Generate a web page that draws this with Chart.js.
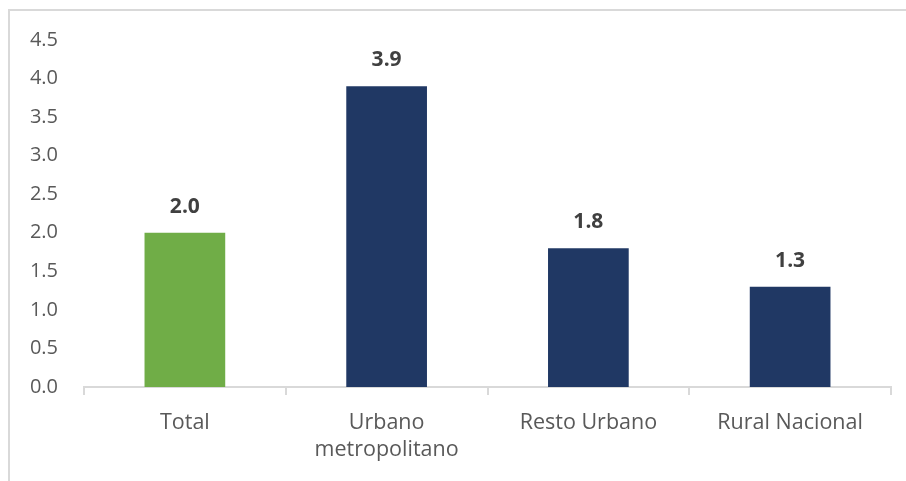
<!DOCTYPE html>
<html>
<head>
<meta charset="utf-8">
<script src="https://cdn.jsdelivr.net/npm/chart.js@4/dist/chart.umd.min.js"></script>
<style>
  html, body { margin: 0; padding: 0; background: #fff; }
  #wrap { position: relative; width: 906px; height: 481px; overflow: hidden; }
  #frame { position: absolute; left: 8px; top: 9px; width: 920px; height: 500px;
           border-left: 2px solid #d9d9d9; border-top: 2px solid #d9d9d9; }
  canvas { position: absolute; left: 0; top: 0; }
</style>
</head>
<body>
<div id="wrap">
  <div id="frame"></div>
  <canvas id="c" width="906" height="481"></canvas>
</div>
<script>
const categories = ["Total", ["Urbano", "metropolitano"], "Resto Urbano", "Rural Nacional"];
const values = [2.0, 3.9, 1.8, 1.3];
const barColors = ["#70ad47", "#203864", "#203864", "#203864"];
const yTicks = [0, 0.5, 1, 1.5, 2, 2.5, 3, 3.5, 4, 4.5];

const FONT = "'Open Sans', 'Noto Sans', sans-serif";

const labelPlugin = {
  id: 'barLabels',
  afterDatasetsDraw(chart) {
    const ctx = chart.ctx;
    const meta = chart.getDatasetMeta(0);
    ctx.save();
    ctx.font = "bold 21px " + FONT;
    ctx.fillStyle = "#404040";
    ctx.textAlign = "center";
    ctx.textBaseline = "middle";
    meta.data.forEach((bar, i) => {
      ctx.fillText(values[i].toFixed(1), bar.x, bar.y - 26);
    });
    ctx.restore();
  }
};

new Chart(document.getElementById('c'), {
  type: 'bar',
  data: {
    labels: categories,
    datasets: [{
      data: values,
      backgroundColor: barColors,
      borderWidth: 0,
      categoryPercentage: 1.0,
      barPercentage: 0.4
    }]
  },
  options: {
    responsive: false,
    animation: false,
    devicePixelRatio: 1,
    layout: { padding: { top: 40, right: 15, bottom: 0, left: 0 } },
    plugins: { legend: { display: false }, tooltip: { enabled: false } },
    scales: {
      x: {
        grid: { display: true, drawOnChartArea: false, drawTicks: true, tickLength: 8, color: "#d9d9d9", lineWidth: 2, offset: true },
        border: { display: true, color: "#d9d9d9", width: 2 },
        ticks: { color: "#595959", font: { family: FONT, size: 21.5, lineHeight: 1.27 }, padding: 14, maxRotation: 0, autoSkip: false },
        afterFit(scale) { scale.height = 94; }
      },
      y: {
        min: 0, max: 4.5,
        afterBuildTicks(scale) { scale.ticks = yTicks.map(v => ({ value: v })); },
        grid: { display: false, drawTicks: false },
        border: { display: false },
        ticks: { color: "#595959", font: { family: FONT, size: 20 }, padding: 26,
                 callback: v => Number(v).toFixed(1) },
        afterFit(scale) { scale.width = 84; }
      }
    }
  },
  plugins: [labelPlugin]
});
</script>
</body>
</html>
